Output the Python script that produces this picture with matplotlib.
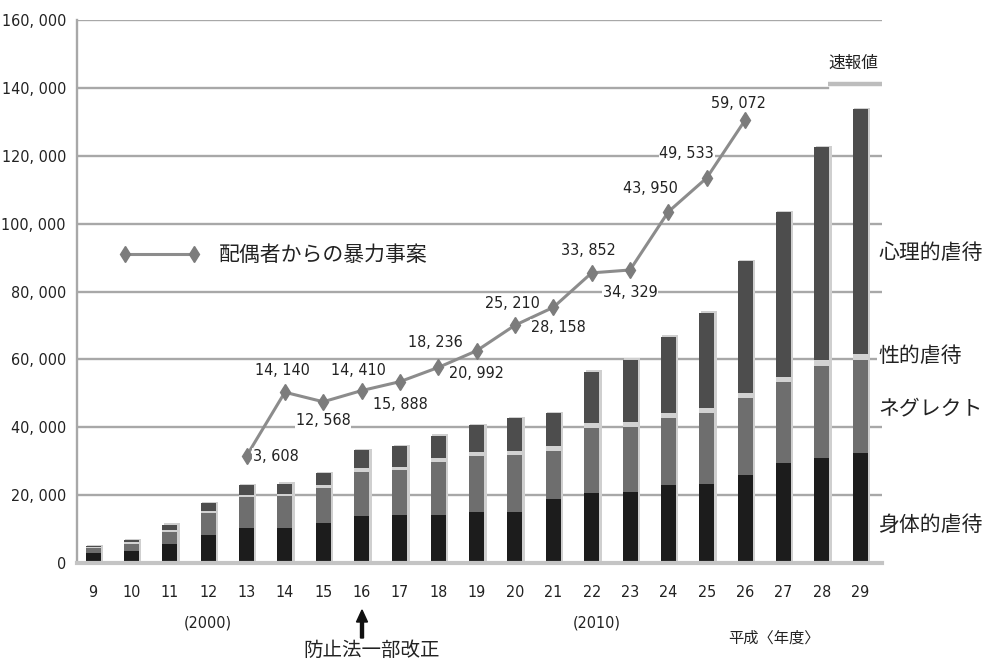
import matplotlib
matplotlib.use("Agg")
import matplotlib.pyplot as plt
from matplotlib import font_manager
from matplotlib.legend_handler import HandlerLine2D
import numpy as np

# ---- data ----
years = [9, 10, 11, 12, 13, 14, 15, 16, 17, 18, 19, 20, 21, 22, 23, 24, 25, 26, 27, 28, 29]
physical = [2900, 3500, 5600, 8300, 10400, 10400, 11800, 13900, 14100, 14200, 15000,
            15000, 18800, 20600, 20900, 23000, 23300, 25900, 29400, 30900, 32300]
neglect = [1400, 2200, 3500, 6300, 9000, 9200, 10200, 13000, 13200, 15500, 16500,
           16800, 14300, 19200, 19300, 19800, 20800, 22800, 24000, 27200, 27600]
sexual = [300, 400, 600, 750, 780, 820, 880, 1050, 1050, 1180, 1290,
          1320, 1350, 1400, 1460, 1450, 1580, 1520, 1520, 1620, 1540]
psychological = [400, 700, 1600, 2350, 2820, 2980, 3620, 5350, 6150, 6620, 7810,
                 9580, 9750, 15200, 18240, 22450, 28120, 38680, 48380, 62880, 72360]

dv_years = [13, 14, 15, 16, 17, 18, 19, 20, 21, 22, 23, 24, 25, 26]
dv_cases = [3608, 14140, 12568, 14410, 15888, 18236, 20992, 25210, 28158, 33852,
            34329, 43950, 49533, 59072]
# label offsets (pixels) for the spouse-violence values
dv_label_dx = [6, -2, 0, -3, 0, -3, 0, -3, 5, -3, 0, -18, -20, -7]
dv_label_dy = [0, 22, -19, 20, -23, 25, -23, 22, -20, 22, -23, 23, 24, 17]

yticks = [0, 20000, 40000, 60000, 80000, 100000, 120000, 140000, 160000]
category_labels = ["身体的虐待", "ネグレクト", "性的虐待", "心理的虐待"]

# ---- fonts ----
fonts = font_manager.fontManager.ttflist
names = {f.name for f in fonts}
num_stretch = "normal"
if "Liberation Sans Narrow" in names:
    NUM, NUM_SIZE = "Liberation Sans Narrow", 13
elif any(f.name == "DejaVu Sans" and f.stretch == "condensed" for f in fonts):
    NUM, NUM_SIZE, num_stretch = "DejaVu Sans", 11.5, "condensed"
else:
    NUM, NUM_SIZE = "Liberation Sans", 11
CJK = "Noto Sans CJK JP"
num_font = [NUM, CJK]
cjk_font = [CJK, "DejaVu Sans"]
TXT = "#222222"

fig = plt.figure(figsize=(9.87, 6.61), dpi=100)
ax = fig.add_axes([77 / 987, 98 / 661, 805 / 987, 543 / 661])

x = np.arange(len(years))
ax.set_xlim(-0.42, 20.57)
ax.set_ylim(0, 160000)

# grid lines
GRID = "#a8a8a8"
for t in yticks[1:]:
    xmax = 0.933 if t == 140000 else 1.0
    ax.axhline(t, xmin=0, xmax=xmax, color=GRID, lw=1.7, zorder=0)
ax.plot([0.933, 1.0], [141200, 141200], transform=ax.get_yaxis_transform(),
        color="#bdbdbd", lw=3.2, zorder=0, solid_capstyle="butt")

# bars: light relief behind, then stacked segments
totals = np.array(physical) + np.array(neglect) + np.array(sexual) + np.array(psychological)
ax.bar(x + 0.05, totals + 400, width=0.42, color="#cfcfcf", zorder=1)
w = 0.39
b = np.zeros(len(years))
for vals, col in [(physical, "#1c1c1c"), (neglect, "#6e6e6e"),
                  (sexual, "#d2d2d2"), (psychological, "#4d4d4d")]:
    ax.bar(x, vals, width=w, bottom=b, color=col, zorder=2)
    b = b + np.array(vals)

# axes styling
for s in ["top", "right"]:
    ax.spines[s].set_visible(False)
ax.spines["left"].set_color(GRID)
ax.spines["left"].set_linewidth(1.7)
ax.spines["bottom"].set_color("#c4c4c4")
ax.spines["bottom"].set_linewidth(3)
ax.set_yticks(yticks)
ax.set_yticklabels([f"{t:,}".replace(",", ", ") for t in yticks],
                   fontfamily=num_font, fontsize=NUM_SIZE, fontstretch=num_stretch,
                   color=TXT)
ax.set_xticks(x)
ax.set_xticklabels([str(y) for y in years], fontfamily=num_font, fontsize=NUM_SIZE,
                   fontstretch=num_stretch, color=TXT)
ax.tick_params(axis="y", length=0, pad=8)
ax.tick_params(axis="x", length=0, pad=16)

# spouse-violence line on its own hidden scale
ax2 = ax.twinx()
ax2.set_ylim(-14056, 75609)
ax2.set_axis_off()
dv_x = [years.index(y) for y in dv_years]
line, = ax2.plot(dv_x, dv_cases, color="#8c8c8c", lw=2.2, marker="d", markersize=8,
                 markerfacecolor="#7c7c7c", markeredgecolor="#7c7c7c", zorder=5,
                 label="配偶者からの暴力事案")
for xi, v, dx, dy in zip(dv_x, dv_cases, dv_label_dx, dv_label_dy):
    ha = "left" if dx > 5 else "center"
    ax2.annotate(f"{v:,}".replace(",", ", "), (xi, v), xytext=(dx, dy),
                 textcoords="offset pixels", ha=ha, va="center",
                 fontfamily=num_font, fontsize=NUM_SIZE, fontstretch=num_stretch,
                 color=TXT, zorder=6, bbox=dict(fc="white", ec="none", pad=0.5))

leg = ax2.legend(handles=[line], loc="center left", bbox_to_anchor=(0.06, 0.567),
                 frameon=False, numpoints=2, handlelength=3.3, handletextpad=1.2,
                 borderpad=0, borderaxespad=0,
                 handler_map={line: HandlerLine2D(marker_pad=0)},
                 prop=font_manager.FontProperties(family=cjk_font, size=15))
for t in leg.get_texts():
    t.set_color(TXT)

# category labels on the right
for lab, ypix in zip(category_labels, [525, 408, 356, 253]):
    fig.text(878 / 987, 1 - ypix / 661, lab, fontfamily=cjk_font, fontsize=15,
             color=TXT, ha="left", va="center",
             bbox=dict(fc="white", ec="none", pad=1))

fig.text(853 / 987, 1 - 63 / 661, "速報値", fontfamily=cjk_font, fontsize=12,
         color=TXT, ha="center", va="center")

# annotations below the x axis
fig.text(208 / 987, 1 - 623 / 661, "(2000)", fontfamily=num_font, fontsize=NUM_SIZE,
         fontstretch=num_stretch, color=TXT, ha="center", va="center")
fig.text(597 / 987, 1 - 623 / 661, "(2010)", fontfamily=num_font, fontsize=NUM_SIZE,
         fontstretch=num_stretch, color=TXT, ha="center", va="center")
fig.text(774 / 987, 1 - 638 / 661, "平成〈年度〉", fontfamily=cjk_font, fontsize=11,
         color=TXT, ha="center", va="center")
fig.text(372 / 987, 1 - 650 / 661, "防止法一部改正", fontfamily=cjk_font, fontsize=14,
         color=TXT, ha="center", va="center")
fig.patches.append(matplotlib.patches.FancyArrow(
    362 / 987, 1 - 638 / 661, 0, 28 / 661, width=3 / 987, head_width=11 / 987,
    head_length=12 / 661, length_includes_head=True, color="#111111",
    transform=fig.transFigure, figure=fig))

fig.savefig("out.png", dpi=100, facecolor="white")
